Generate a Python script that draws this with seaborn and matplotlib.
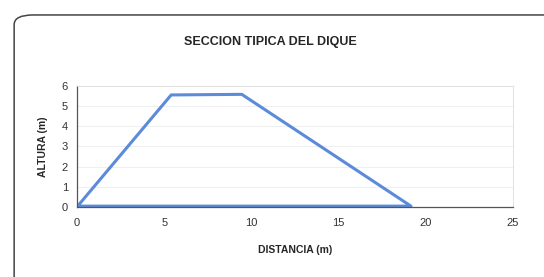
import matplotlib
matplotlib.use('Agg')
import matplotlib.pyplot as plt
import seaborn as sns
import pandas as pd
from matplotlib.patches import FancyBboxPatch

# Dike cross-section outline (closed polygon)
distancia = [0, 5.4, 9.45, 19.15, 0]
altura = [0, 5.55, 5.58, 0.04, 0.04]
x_ticks = [0, 5, 10, 15, 20, 25]
y_ticks = [0, 1, 2, 3, 4, 5, 6]

df = pd.DataFrame({'distancia': distancia, 'altura': altura})

sns.set_style('white')
plt.rcParams['font.family'] = ['Liberation Sans Narrow', 'Liberation Sans', 'DejaVu Sans']

fig = plt.figure(figsize=(5.44, 2.77), dpi=100)
ax = fig.add_axes([0.1415, 0.253, 0.8015, 0.437])

# outer chart frame (right and bottom edges run off the picture)
frame = FancyBboxPatch((0.026, -0.2), 1.2, 1.146, boxstyle='round,pad=0,rounding_size=0.035',
                       transform=fig.transFigure, fill=False, edgecolor='#444444', linewidth=1.1)
fig.patches.append(frame)

sns.lineplot(data=df, x='distancia', y='altura', sort=False, estimator=None,
             color='#5b8bd9', linewidth=2.2, ax=ax)

ax.set_xlim(0, 25)
ax.set_ylim(0, 6)
ax.set_xticks(x_ticks)
ax.set_yticks(y_ticks)
ax.tick_params(axis='both', labelsize=8, colors='#333333', length=3, direction='out')
ax.tick_params(axis='x', pad=5)
ax.yaxis.grid(True, color='#ececec', linewidth=0.6)
for side in ['left', 'bottom']:
    ax.spines[side].set_color('#555555')
    ax.spines[side].set_linewidth(0.9)
for side in ['top', 'right']:
    ax.spines[side].set_color('#dddddd')
    ax.spines[side].set_linewidth(0.6)

ax.set_xlabel('DISTANCIA (m)', fontsize=7.5, fontweight='bold', labelpad=12)
ax.set_ylabel('ALTURA (m)', fontsize=7.5, fontweight='bold', labelpad=10)
fig.text(0.497, 0.848, 'SECCION TIPICA DEL DIQUE', ha='center', va='center',
         fontsize=9, fontweight='bold')

fig.savefig('out.png', dpi=100)
